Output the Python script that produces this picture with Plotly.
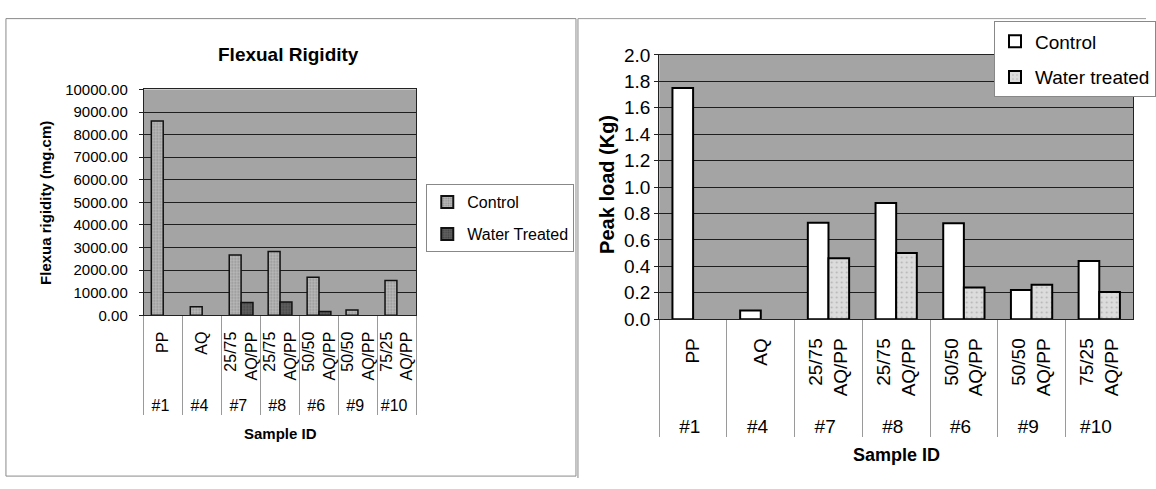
import plotly.graph_objects as go

W, H = 1156, 489

# ---------------- data ----------------
sample_ids = ["#1", "#4", "#7", "#8", "#6", "#9", "#10"]
compositions = ["PP", "AQ", "25/75<br>AQ/PP", "25/75<br>AQ/PP", "50/50<br>AQ/PP",
                "50/50<br>AQ/PP", "75/25<br>AQ/PP"]

rigidity_control = [8600, 380, 2670, 2830, 1680, 240, 1540]
rigidity_water = [None, None, 565, 590, 170, None, None]

peak_control = [1.75, 0.065, 0.73, 0.88, 0.725, 0.22, 0.44]
peak_water = [None, None, 0.46, 0.50, 0.24, 0.26, 0.205]

left_yticks = [0, 1000, 2000, 3000, 4000, 5000, 6000, 7000, 8000, 9000, 10000]
right_yticks = [0.0, 0.2, 0.4, 0.6, 0.8, 1.0, 1.2, 1.4, 1.6, 1.8, 2.0]

FONT = "Liberation Sans, Arial, sans-serif"


def px(x):
    return x / W


def py(y):
    return (H - y) / H


def padded(labels, n):
    # trailing no-break spaces push rotated labels a little away from the axis
    pad = "\u00a0" * n
    return ["<br>".join(part + pad for part in lab.split("<br>")) for lab in labels]


fig = go.Figure()

xcat_left = [sample_ids, padded(compositions, 2)]
xcat_right = [sample_ids, padded(compositions, 2)]

# ---------------- left chart ----------------
fig.add_trace(go.Bar(
    x=xcat_left, y=rigidity_control, name="Control", xaxis="x", yaxis="y",
    legend="legend", legendgroup="a",
    marker=dict(color="#b2b2b2", line=dict(color="#111", width=1.5),
                pattern=dict(shape=".", size=3, solidity=0.35,
                             fgcolor="#6a6a6a", bgcolor="#b8b8b8")),
))
fig.add_trace(go.Bar(
    x=xcat_left, y=rigidity_water, name="Water Treated", xaxis="x", yaxis="y",
    legend="legend", legendgroup="b",
    marker=dict(color="#555", line=dict(color="#111", width=1.5),
                pattern=dict(shape=".", size=3, solidity=0.35,
                             fgcolor="#2a2a2a", bgcolor="#606060")),
))

# ---------------- right chart ----------------
fig.add_trace(go.Bar(
    x=xcat_right, y=peak_control, name="Control", xaxis="x2", yaxis="y2",
    legend="legend2", legendgroup="c",
    marker=dict(color="white", line=dict(color="#000", width=2)),
))
fig.add_trace(go.Bar(
    x=xcat_right, y=peak_water, name="Water treated", xaxis="x2", yaxis="y2",
    legend="legend2", legendgroup="d",
    marker=dict(color="#d6d6d6", line=dict(color="#000", width=2),
                pattern=dict(shape=".", size=5, solidity=0.12,
                             fgcolor="#8a8a8a", bgcolor="#dcdcdc")),
))

axis_common = dict(showline=True, linecolor="#222", linewidth=1, mirror=True)

fig.update_layout(
    width=W, height=H,
    margin=dict(l=0, r=0, t=0, b=0),
    paper_bgcolor="white",
    plot_bgcolor="#a4a4a4",
    barmode="group", bargap=0.39, bargroupgap=0,
    font=dict(family=FONT, color="black"),
    xaxis=dict(domain=[px(145), px(420)], anchor="y", type="multicategory",
               tickangle=-90, tickfont=dict(size=16), showgrid=False,
               showdividers=True, dividercolor="#9a9a9a", dividerwidth=1,
               ticks="", **axis_common),
    yaxis=dict(domain=[py(319), py(83)], anchor="x", range=[0, 10000],
               tickvals=left_yticks, tickformat=".2f",
               tickfont=dict(size=15), showgrid=True, gridcolor="#1e1e1e",
               gridwidth=1, ticks="outside", ticklen=4, tickcolor="#222",
               ticklabelstandoff=8, zeroline=False, **axis_common),
    xaxis2=dict(domain=[px(665), px(1143)], anchor="y2", type="multicategory",
                tickangle=-90, tickfont=dict(size=19), showgrid=False,
                showdividers=True, dividercolor="#9a9a9a", dividerwidth=1,
                ticks="", **axis_common),
    yaxis2=dict(domain=[py(323), py(47)], anchor="x2", range=[0, 2.0],
                tickvals=right_yticks, tickformat=".1f",
                tickfont=dict(size=19), showgrid=True, gridcolor="#1e1e1e",
                gridwidth=1, ticks="outside", ticklen=4, tickcolor="#222",
                zeroline=False, **axis_common),
    legend=dict(x=px(430), y=py(182), xanchor="left", yanchor="top",
                bgcolor="white", bordercolor="#888", borderwidth=1,
                font=dict(size=16), traceorder="grouped", tracegroupgap=8,
                itemsizing="constant"),
    legend2=dict(x=px(1003), y=py(12), xanchor="left", yanchor="top",
                 bgcolor="white", bordercolor="#888", borderwidth=1,
                 font=dict(size=19), traceorder="grouped", tracegroupgap=8),
    shapes=[
        dict(type="rect", xref="paper", yref="paper", x0=px(6), x1=px(581),
             y0=py(487), y1=py(9), line=dict(color="#8a8a8a", width=1)),
        dict(type="line", xref="paper", yref="paper", x0=px(583), x1=px(583),
             y0=py(489), y1=py(9), line=dict(color="#8a8a8a", width=1)),
        dict(type="line", xref="paper", yref="paper", x0=px(583), x1=px(1156),
             y0=py(9), y1=py(9), line=dict(color="#9a9a9a", width=1)),
    ],
    annotations=[
        dict(text="<b>Flexual Rigidity</b>", x=px(291), y=py(46),
             font=dict(size=19)),
        dict(text="<b>Flexua rigidity (mg.cm)</b>", x=px(46), y=py(202),
             textangle=-90, font=dict(size=15)),
        dict(text="<b>Sample ID</b>", x=px(283), y=py(443),
             font=dict(size=15)),
        dict(text="<b>Peak load (Kg)</b>", x=px(612), y=py(182),
             textangle=-90, font=dict(size=20)),
        dict(text="<b>Sample ID</b>", x=px(904), y=py(465),
             font=dict(size=18)),
    ],
)
fig.update_annotations(xref="paper", yref="paper", showarrow=False,
                       xanchor="center", yanchor="middle")

fig.write_html("out.html")
